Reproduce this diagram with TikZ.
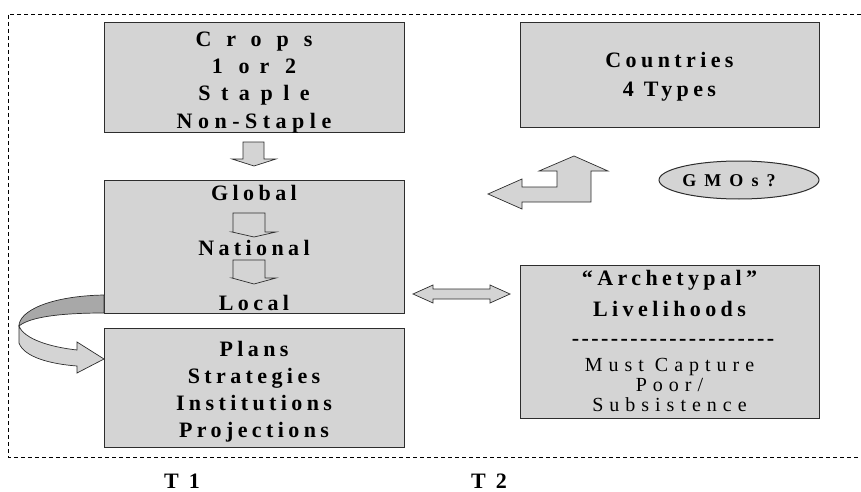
\documentclass[tikz,border=0pt]{standalone}
\usepackage{fontspec}
\usepackage{tikz}
\usetikzlibrary{positioning,shapes.geometric}
\newfontfamily\lblfont{Liberation Serif}[LetterSpace=20]
\definecolor{boxgray}{RGB}{212,212,212}
\definecolor{foldgray}{RGB}{168,168,168}
\definecolor{edgegray}{RGB}{45,45,45}

\begin{document}
\begin{tikzpicture}[x=1pt, y=-1pt,
    font=\lblfont\bfseries\fontsize{22}{27}\selectfont,
    box/.style={draw=edgegray, fill=boxgray, line width=1pt, inner sep=0pt},
    lbl/.style={inner sep=0pt, align=center},
    blockarrow/.style={draw=edgegray, fill=boxgray, line width=0.7pt, line join=miter},
    hollowarrow/.style={draw=edgegray, line width=0.7pt, line join=miter}]
    \useasboundingbox (0,0) rectangle (861,492);
    % frame round T1 and T2
    \draw[dash pattern=on 4pt off 3pt, line width=0.7pt] (861,14) -- (8,14) -- (8,457) -- (861,457);

    % left column
    \node[box, minimum width=300pt, minimum height=109pt] (crops) at (254,77.5) {};
    \node[lbl, below=9pt of crops.north, font=\lblfont\bfseries\fontsize{22}{27.3}\selectfont] (cropstxt)
        {{\addfontfeature{LetterSpace=68}Crops}\\{\addfontfeature{LetterSpace=46}1 or 2}\\
         {\addfontfeature{LetterSpace=48}Staple}\\{\addfontfeature{LetterSpace=25}Non-Staple}};
    \node[box, minimum width=300pt, minimum height=133pt] (glob) at (254,246.5) {};
    \node[lbl, below=6pt of glob.north] (global) {Global};
    \node[lbl, anchor=base] (national) at (254,255) {National};
    \node[lbl, anchor=base] (local) at (254,310) {Local};
    \node[box, minimum width=300pt, minimum height=119pt] (plans) at (254,387.5) {};
    \node[lbl, below=14pt of plans.north] (planstxt) {Plans\\Strategies\\Institutions\\Projections};

    % right column
    \node[box, minimum width=299pt, minimum height=104pt] (countries) at (669.5,75) {};
    \node[lbl, below=30pt of countries.north, font=\lblfont\bfseries\fontsize{22}{29}\selectfont] (countriestxt)
        {Countries\\4 Types};
    \node[box, ellipse, minimum width=160pt, minimum height=38pt] (gmo) at (739,180) {};
    \node[lbl, font=\lblfont\bfseries\fontsize{18}{20}\selectfont\addfontfeature{LetterSpace=45}] (gmotxt)
        at (729,181) {GMOs?};
    \node[box, minimum width=299pt, minimum height=153pt] (arch) at (669.5,341.5) {};
    \node[lbl, below=6pt of arch.north, font=\lblfont\bfseries\fontsize{22}{31}\selectfont] (archtxt)
        {“Archetypal”\\Livelihoods};
    \node[lbl, font=\lblfont\bfseries\fontsize{22}{27}\selectfont\addfontfeature{LetterSpace=11}] (rule) at (673,342)
        {-{}-{}-{}-{}-{}-{}-{}-{}-{}-{}-{}-{}-{}-{}-{}-{}-{}-{}-{}-{}-};
    \node[lbl, anchor=north, font=\lblfont\mdseries\fontsize{20}{20}\selectfont\addfontfeature{LetterSpace=30}] (poortxt)
        at (669.5,358.5) {Must Capture\\Poor/\\Subsistence};

    % block arrows
    \draw[blockarrow] (243,142) -- (264,142) -- (264,159) -- (276,159) -- (254,166)
        -- (232,159) -- (243,159) -- cycle;
    \draw[hollowarrow] (233,213) -- (265,213) -- (265,232) -- (276,232) -- (254,237)
        -- (232,232) -- (233,232) -- cycle;
    \draw[hollowarrow] (233,260) -- (265,260) -- (265,278) -- (276,278) -- (254,284)
        -- (232,278) -- (233,278) -- cycle;
    \draw[blockarrow] (413,294) -- (433,285) -- (433,289) -- (490,289) -- (490,285) -- (510,294)
        -- (490,303) -- (490,299) -- (433,299) -- (433,303) -- cycle;
    \draw[blockarrow] (488,194) -- (522,179) -- (522,187) -- (557,187) -- (557,171) -- (539,171)
        -- (574,156) -- (608,171) -- (591,171) -- (591,202) -- (522,202) -- (522,209) -- cycle;
    % curved ribbon arrow
    \draw[blockarrow, fill=foldgray] (104,295) .. controls (50,296) and (19,311) .. (19,326)
        .. controls (30,317) and (60,313) .. (104,313) -- cycle;
    \draw[blockarrow] (19,326) -- (19,343) .. controls (24,357) and (50,364) .. (77,366)
        -- (77,373) -- (104,359) -- (77,342) -- (77,350) .. controls (50,347) and (24,339) .. (19,326) -- cycle;

    % time labels
    \node[lbl] (t1) at (182,481) {T 1};
    \node[lbl] (t2) at (489,481) {T 2};
\end{tikzpicture}
\end{document}
